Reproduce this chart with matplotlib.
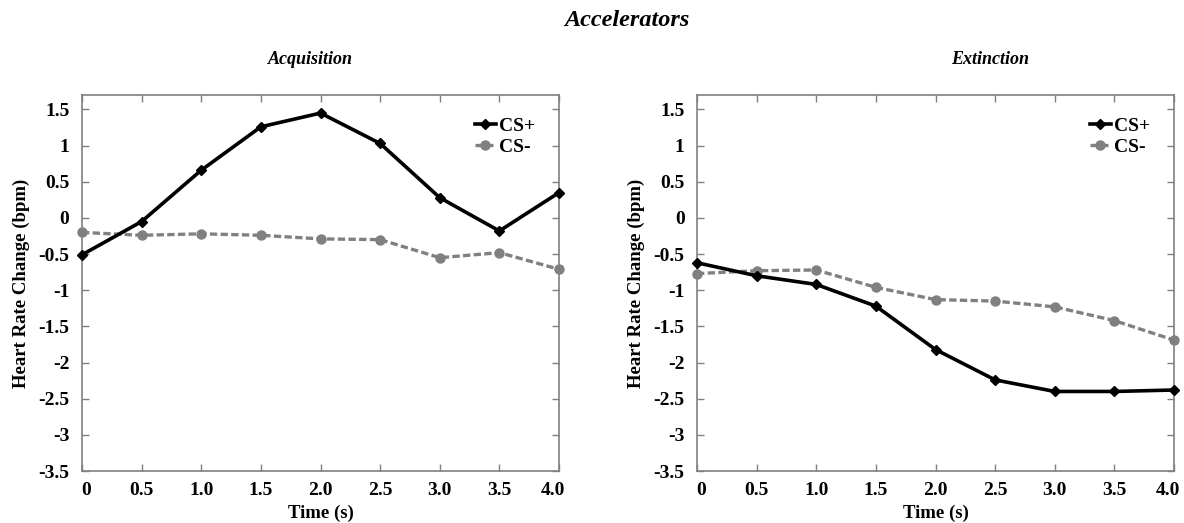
import matplotlib
matplotlib.use("Agg")
import matplotlib.pyplot as plt
from matplotlib.transforms import ScaledTranslation

time = [0, 0.5, 1.0, 1.5, 2.0, 2.5, 3.0, 3.5, 4.0]
x_ticklabels = ["0", "0.5", "1.0", "1.5", "2.0", "2.5", "3.0", "3.5", "4.0"]
y_ticks = [1.5, 1, 0.5, 0, -0.5, -1, -1.5, -2, -2.5, -3, -3.5]
y_ticklabels = ["1.5", "1", "0.5", "0", "-0.5", "-1", "-1.5", "-2", "-2.5", "-3", "-3.5"]

acq_csplus = [-0.51, -0.05, 0.66, 1.26, 1.45, 1.03, 0.28, -0.18, 0.35]
acq_csminus = [-0.20, -0.24, -0.22, -0.24, -0.29, -0.30, -0.55, -0.48, -0.71]
ext_csplus = [-0.62, -0.80, -0.92, -1.22, -1.82, -2.24, -2.40, -2.40, -2.38]
ext_csminus = [-0.77, -0.73, -0.72, -0.96, -1.13, -1.15, -1.23, -1.42, -1.69]

plt.rcParams['font.family'] = ['Liberation Serif', 'DejaVu Serif']
plt.rcParams['font.weight'] = 'bold'

fig = plt.figure(figsize=(11.84, 5.23), dpi=100)
W, H = 1184, 523
axes_px = [(82, 559), (697, 1174)]
top, bottom = 95, 471

panels = [("Acquisition", acq_csplus, acq_csminus, 310),
          ("Extinction", ext_csplus, ext_csminus, 990)]

for (l, r), (title, cp, cm, tx) in zip(axes_px, panels):
    ax = fig.add_axes([l / W, 1 - bottom / H, (r - l) / W, (bottom - top) / H])
    ax.plot(time, cp, color='black', lw=2.6, marker='D', ms=5.5, label='CS+',
            zorder=3, clip_on=False)
    ax.plot(time, cm, color='#808080', lw=2.4, ls=(0, (2.2, 1.0)), marker='o', ms=6.5,
            label='CS-', zorder=2, clip_on=False)
    ax.set_xlim(0, 4)
    ax.set_ylim(-3.5, 1.7)
    ax.set_xticks(time)
    ax.set_xticklabels(x_ticklabels)
    ax.set_yticks(y_ticks)
    ax.set_yticklabels(y_ticklabels)
    ax.tick_params(direction='in', top=True, right=True, length=5, width=1,
                   color='#808080', labelsize=14)
    ax.tick_params(axis='x', pad=8)
    ax.tick_params(axis='y', pad=9)
    for t in ax.get_xticklabels() + ax.get_yticklabels():
        t.set_fontweight('bold')
    xt = ax.xaxis.get_major_ticks()
    xt[0].label1.set_transform(xt[0].label1.get_transform()
                               + ScaledTranslation(4 / 100, 0, fig.dpi_scale_trans))
    xt[-1].label1.set_transform(xt[-1].label1.get_transform()
                                + ScaledTranslation(-6 / 100, 0, fig.dpi_scale_trans))
    for s in ax.spines.values():
        s.set_color('#808080')
        s.set_linewidth(1.2)
    ax.set_xlabel("Time (s)", fontsize=13.5, fontweight='bold', labelpad=4)
    ax.set_ylabel("Heart Rate Change (bpm)", fontsize=13.5, fontweight='bold', labelpad=6)
    leg = ax.legend(loc='upper right', frameon=False, fontsize=14, handlelength=1.1,
                    handletextpad=0.15, labelspacing=0.2, borderaxespad=0, borderpad=0,
                    bbox_to_anchor=((1150 - 697) / 477, (471 - 117) / 376))
    for t in leg.get_texts():
        t.set_fontweight('bold')
    fig.text(tx / W, 1 - 59 / H, title, ha='center', va='center', fontsize=13,
             fontweight='bold', style='italic')

fig.text(627 / W, 1 - 20 / H, "Accelerators", ha='center', va='center', fontsize=17.5,
         fontweight='bold', style='italic')

fig.savefig("out.png", dpi=100)
